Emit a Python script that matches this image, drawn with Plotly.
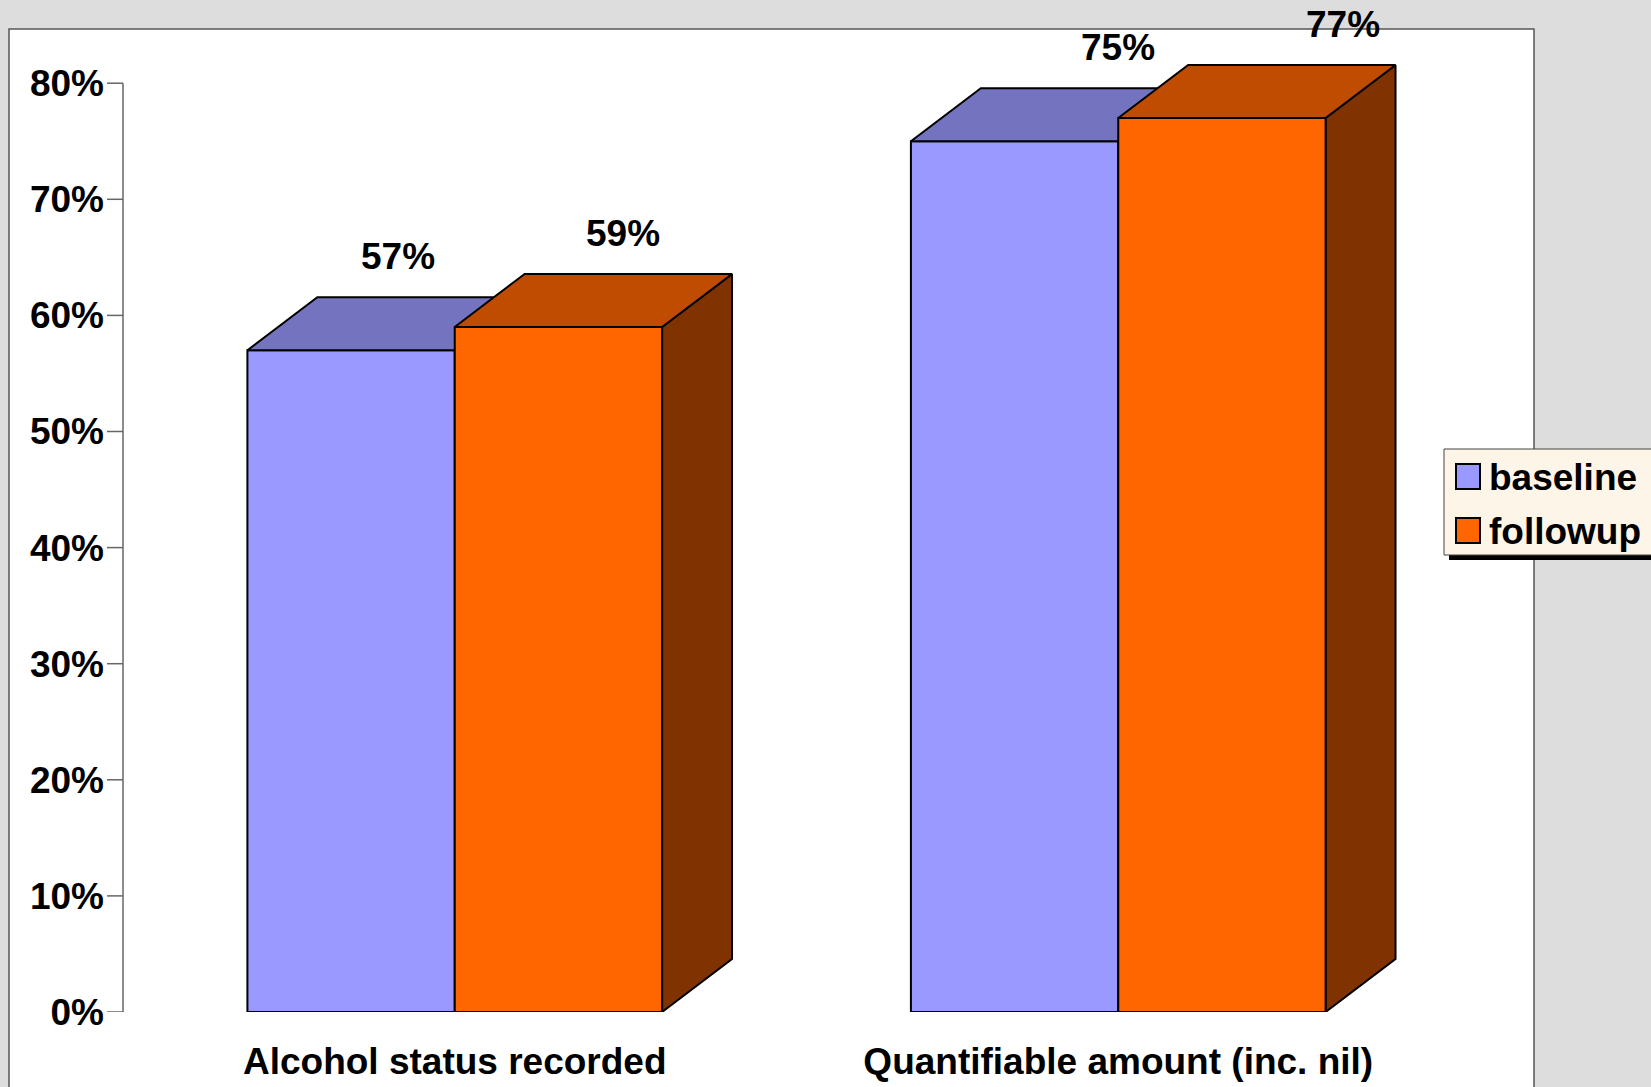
import plotly.graph_objects as go

categories = ["Alcohol status recorded", "Quantifiable amount (inc. nil)"]
series_names = ["baseline", "followup"]
baseline = [0.57, 0.75]
followup = [0.59, 0.77]
y_ticks = [0, 0.1, 0.2, 0.3, 0.4, 0.5, 0.6, 0.7, 0.8]

FRONT = ["#9999FF", "#FF6600"]
TOP = ["#7373BF", "#BF4C00"]
SIDE = ["#4D4D80", "#803300"]
FONT = "Arial, Liberation Sans, sans-serif"
FONT_SIZE = 37

W, H = 1651, 1087
L, R_EDGE, B = 123, 1450, 75
PLOT_H = H - B
PX_PER_UNIT = 1161  # pixels for 100%
TICK_LEN = 16

BAR_W = 0.3125   # width of one bar in category units
DX = 0.1054      # depth offset (x, category units)
DY = 0.0457      # depth offset (y, fraction)


def px_x(p):
    return (p - L) / (R_EDGE - L)


def px_y(q):
    return (PLOT_H - q) / PLOT_H


def face(xs, ys, color):
    return go.Scatter(
        x=xs, y=ys, mode="lines", fill="toself", fillcolor=color,
        line=dict(color="black", width=2), hoverinfo="skip", showlegend=False,
    )


bold = dict(family=FONT, size=FONT_SIZE, color="black", weight="bold")

fig = go.Figure()
annotations = []
series = [baseline, followup]
for i, cat in enumerate(categories):
    for s, values in enumerate(series):
        v = values[i]
        x0 = i - BAR_W + s * BAR_W
        x1 = x0 + BAR_W
        fig.add_trace(face([x1, x1 + DX, x1 + DX, x1, x1], [0, DY, v + DY, v, 0], SIDE[s]))
        fig.add_trace(face([x0, x1, x1, x0, x0], [0, 0, v, v, 0], FRONT[s]))
        fig.add_trace(face([x0, x1, x1 + DX, x0 + DX, x0], [v, v, v + DY, v + DY, v], TOP[s]))
        # value labels drift right with x, like the old 3D perspective
        xc = x0 + BAR_W / 2
        annotations.append(dict(
            x=xc + 0.084 + 0.085 * xc, y=v, yshift=94, text=f"{v:.0%}",
            showarrow=False, font=bold,
        ))

shapes = [
    # white panel
    dict(type="rect", xref="paper", yref="paper", x0=px_x(9), x1=px_x(1534),
         y0=px_y(1120), y1=px_y(29), fillcolor="white",
         line=dict(color="#555555", width=1.5), layer="below"),
    # y axis line
    dict(type="line", xref="paper", yref="y", x0=0, x1=0, y0=0, y1=y_ticks[-1],
         line=dict(color="#666666", width=1.5)),
    # legend shadow and box
    dict(type="rect", xref="paper", yref="paper", x0=px_x(1449), x1=px_x(1720),
         y0=px_y(560), y1=px_y(454), fillcolor="black", line=dict(width=0)),
    dict(type="rect", xref="paper", yref="paper", x0=px_x(1444), x1=px_x(1720),
         y0=px_y(555), y1=px_y(449), fillcolor="#FDF5E7",
         line=dict(color="#444444", width=1)),
]
# y tick marks
for t in y_ticks:
    shapes.append(dict(type="line", xref="paper", yref="y",
                       x0=px_x(L - TICK_LEN), x1=0, y0=t, y1=t,
                       line=dict(color="#666666", width=1.5)))

for s, name in enumerate(series_names):
    top = 464 + s * 54
    shapes.append(dict(type="rect", xref="paper", yref="paper",
                       x0=px_x(1456), x1=px_x(1480), y0=px_y(top + 25), y1=px_y(top),
                       fillcolor=FRONT[s], line=dict(color="black", width=2)))
    annotations.append(dict(
        xref="paper", yref="paper", x=px_x(1487), y=px_y(top + 13),
        xanchor="left", yanchor="middle", text=name, showarrow=False, font=bold,
    ))

fig.update_layout(
    width=W, height=H,
    paper_bgcolor="#DDDDDD",
    plot_bgcolor="rgba(0,0,0,0)",
    margin=dict(l=L, r=W - R_EDGE, t=0, b=B, pad=0, autoexpand=False),
    showlegend=False,
    font=bold,
    xaxis=dict(
        range=[-0.5, 1.5], tickvals=[0, 1], ticktext=categories,
        showgrid=False, zeroline=False, showline=False, ticks="",
        ticklabelstandoff=24, fixedrange=True,
    ),
    yaxis=dict(
        range=[0, PLOT_H / PX_PER_UNIT], tickvals=y_ticks, tickformat=".0%",
        showgrid=False, zeroline=False, showline=False, ticks="",
        ticklabelstandoff=18, fixedrange=True,
    ),
    shapes=shapes,
    annotations=annotations,
)

fig.write_html(
    "out.html",
    config={"displayModeBar": False},
    post_script="document.body.style.margin='0';document.body.style.overflow='hidden';",
)
